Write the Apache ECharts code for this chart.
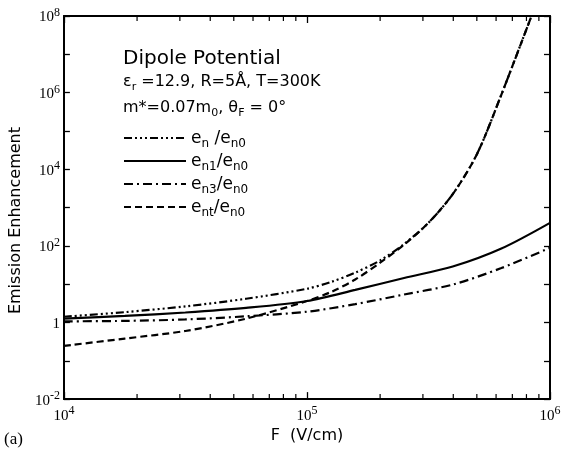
<!DOCTYPE html>
<html><head><meta charset="utf-8">
<script src="https://cdn.jsdelivr.net/npm/echarts@6/dist/echarts.min.js"></script>
<style>html,body{margin:0;padding:0;background:#fff}#c{width:566px;height:449px}</style>
</head><body><div id="c"></div>
<script>
// ---- data ----
const seriesNames = ['en/en0', 'en1/en0', 'en3/en0', 'ent/en0'];
const fieldA = [10000, 17800, 31600, 56200, 100000, 126000, 158000, 200000, 251000, 316000, 398000, 501000, 631000, 794000, 900000];
const enRatio = [1.41, 1.86, 2.63, 4.17, 7.59, 11.5, 20.0, 41.7, 112, 398, 2240, 25100, 891000, 39800000, 316000000];
const entRatio = [0.245, 0.38, 0.60, 1.26, 3.63, 6.31, 13.2, 36.3, 107, 398, 2240, 25100, 891000, 39800000, 316000000];
const fieldB = [10000, 17800, 31600, 56200, 100000, 158000, 251000, 398000, 631000, 1000000];
const en1Ratio = [1.26, 1.48, 1.82, 2.40, 3.63, 7.08, 14.5, 28.8, 85.1, 398];
const en3Ratio = [1.07, 1.10, 1.20, 1.45, 1.91, 3.02, 5.37, 9.77, 26.3, 89.1];
const xMinorTicks = [20000, 30000, 40000, 50000, 60000, 70000, 80000, 90000, 200000, 300000, 400000, 500000, 600000, 700000, 800000, 900000];
const legendLabels = {
  'en/en0': '{e|e}{s|n}{e| /e}{s|n0}',
  'en1/en0': '{e|e}{s|n1}{e|/e}{s|n0}',
  'en3/en0': '{e|e}{s|n3}{e|/e}{s|n0}',
  'ent/en0': '{e|e}{s|nt}{e|/e}{s|n0}'
};

const SERIF = 'Liberation Serif';
const SANS = 'DejaVu Sans';

function zip(xs, ys) { return xs.map((x, i) => [x, ys[i]]); }

function powLabel(v, evenOnly) {
  const e = Math.round(Math.log10(v));
  if (evenOnly && e % 2 !== 0) return '';
  if (e === 0) return '{b|1}';
  return '{b|10}{s|' + (e < 0 ? '-' : '') + Math.abs(e) + '}';
}
const powRich = {
  b: { fontFamily: SERIF, fontSize: 15, color: '#000', verticalAlign: 'bottom', lineHeight: 18 },
  s: { fontFamily: SERIF, fontSize: 12, color: '#000', verticalAlign: 'bottom', lineHeight: 18, padding: [0, 0, 6, 0] }
};

const axisLine = { show: true, lineStyle: { color: '#000', width: 2 } };

const chart = echarts.init(document.getElementById('c'), null, { renderer: 'canvas' });
chart.setOption({
  animation: false,
  backgroundColor: '#fff',
  color: ['#000', '#000', '#000', '#000', '#000'],
  grid: { left: 62, right: 16, top: 16, bottom: 43, containLabel: false },
  xAxis: [
    { type: 'log', logBase: 10, min: 10000, max: 1000000, interval: 1, position: 'bottom',
      axisLine, axisTick: { inside: true, length: 7, lineStyle: { color: '#000', width: 1.3 } },
      axisLabel: { margin: 6, formatter: v => powLabel(v, false), rich: powRich },
      splitLine: { show: false },
      name: 'F  (V/cm)', nameLocation: 'middle', nameGap: 17,
      nameTextStyle: { fontFamily: SANS, fontSize: 16, color: '#000', verticalAlign: 'top' } },
    { type: 'log', logBase: 10, min: 10000, max: 1000000, interval: 1, position: 'top',
      axisLine, axisTick: { inside: true, length: 7, lineStyle: { color: '#000', width: 1.3 } },
      axisLabel: { show: false }, splitLine: { show: false } }
  ],
  yAxis: [
    { type: 'log', logBase: 10, min: 0.01, max: 100000000, interval: 1, position: 'left',
      axisLine, axisTick: { inside: true, length: 6, lineStyle: { color: '#000', width: 1.3 } },
      axisLabel: { margin: 4, formatter: v => powLabel(v, true), rich: powRich },
      splitLine: { show: false },
      name: 'Emission Enhancement', nameLocation: 'middle', nameGap: 36,
      nameTextStyle: { fontFamily: SANS, fontSize: 16, color: '#000', padding: [0, 26, 0, 0] } },
    { type: 'log', logBase: 10, min: 0.01, max: 100000000, interval: 1, position: 'right',
      axisLine, axisTick: { inside: true, length: 6, lineStyle: { color: '#000', width: 1.3 } },
      axisLabel: { show: false }, splitLine: { show: false } }
  ],
  legend: {
    orient: 'vertical', left: 123, top: 130, padding: 0, itemWidth: 62, itemHeight: 14, itemGap: 3,
    data: seriesNames, selectedMode: false,
    itemStyle: { opacity: 0 },
    formatter: n => legendLabels[n],
    textStyle: { rich: {
      e: { fontFamily: SANS, fontSize: 17, color: '#000', verticalAlign: 'bottom', lineHeight: 18 },
      s: { fontFamily: SANS, fontSize: 12, color: '#000', verticalAlign: 'bottom', lineHeight: 18, padding: [0, 0, -3, 0] }
    } }
  },
  graphic: [
    { type: 'text', left: 123, top: 49, style: { text: 'Dipole Potential', font: '20px ' + SANS, fill: '#000' } },
    { type: 'text', left: 123, top: 74, style: {
      text: '{t|\u03b5}{u|r}{t| =12.9, R=5\u00c5, T=300K}',
      rich: {
        t: { fontFamily: SANS, fontSize: 16, fill: '#000', verticalAlign: 'bottom', lineHeight: 20 },
        u: { fontFamily: SANS, fontSize: 11, fill: '#000', verticalAlign: 'bottom', lineHeight: 20, padding: [0, 0, -3, 0] }
      } } },
    { type: 'text', left: 123, top: 100, style: {
      text: '{t|m*=0.07m}{u|0}{t|, \u03b8}{u|F}{t| = 0\u00b0}',
      rich: {
        t: { fontFamily: SANS, fontSize: 16, fill: '#000', verticalAlign: 'bottom', lineHeight: 20 },
        u: { fontFamily: SANS, fontSize: 11, fill: '#000', verticalAlign: 'bottom', lineHeight: 20, padding: [0, 0, -3, 0] }
      } } },
    { type: 'text', left: 4, top: 431, style: { text: '(a)', font: '17px ' + SERIF, fill: '#000' } }
  ],
  series: [
    { name: 'en/en0', type: 'line', data: zip(fieldA, enRatio), smooth: 0.3, symbol: 'none',
      itemStyle: { color: '#000' },
      lineStyle: { color: '#000', width: 2.2, type: [8, 3, 2, 3, 2, 3, 2, 3] } },
    { name: 'en1/en0', type: 'line', data: zip(fieldB, en1Ratio), smooth: 0.3, symbol: 'none',
      itemStyle: { color: '#000' },
      lineStyle: { color: '#000', width: 2.2, type: 'solid' } },
    { name: 'en3/en0', type: 'line', data: zip(fieldB, en3Ratio), smooth: 0.3, symbol: 'none',
      itemStyle: { color: '#000' },
      lineStyle: { color: '#000', width: 2.2, type: [9, 4, 2, 4] } },
    { name: 'ent/en0', type: 'line', data: zip(fieldA, entRatio), smooth: 0.3, symbol: 'none',
      itemStyle: { color: '#000' },
      lineStyle: { color: '#000', width: 2.2, type: [7, 4] } },
    { name: '_minor', type: 'custom', silent: true, clip: false,
      data: xMinorTicks.map(v => [v, 1]),
      renderItem: (params, api) => {
        const x = api.coord([api.value(0), 1])[0];
        const cs = params.coordSys;
        const st = { stroke: '#000', lineWidth: 1.2 };
        return { type: 'group', children: [
          { type: 'line', shape: { x1: x, y1: cs.y + cs.height, x2: x, y2: cs.y + cs.height - 5 }, style: st },
          { type: 'line', shape: { x1: x, y1: cs.y, x2: x, y2: cs.y + 5 }, style: st }
        ] };
      } }
  ]
});
</script>
</body></html>
